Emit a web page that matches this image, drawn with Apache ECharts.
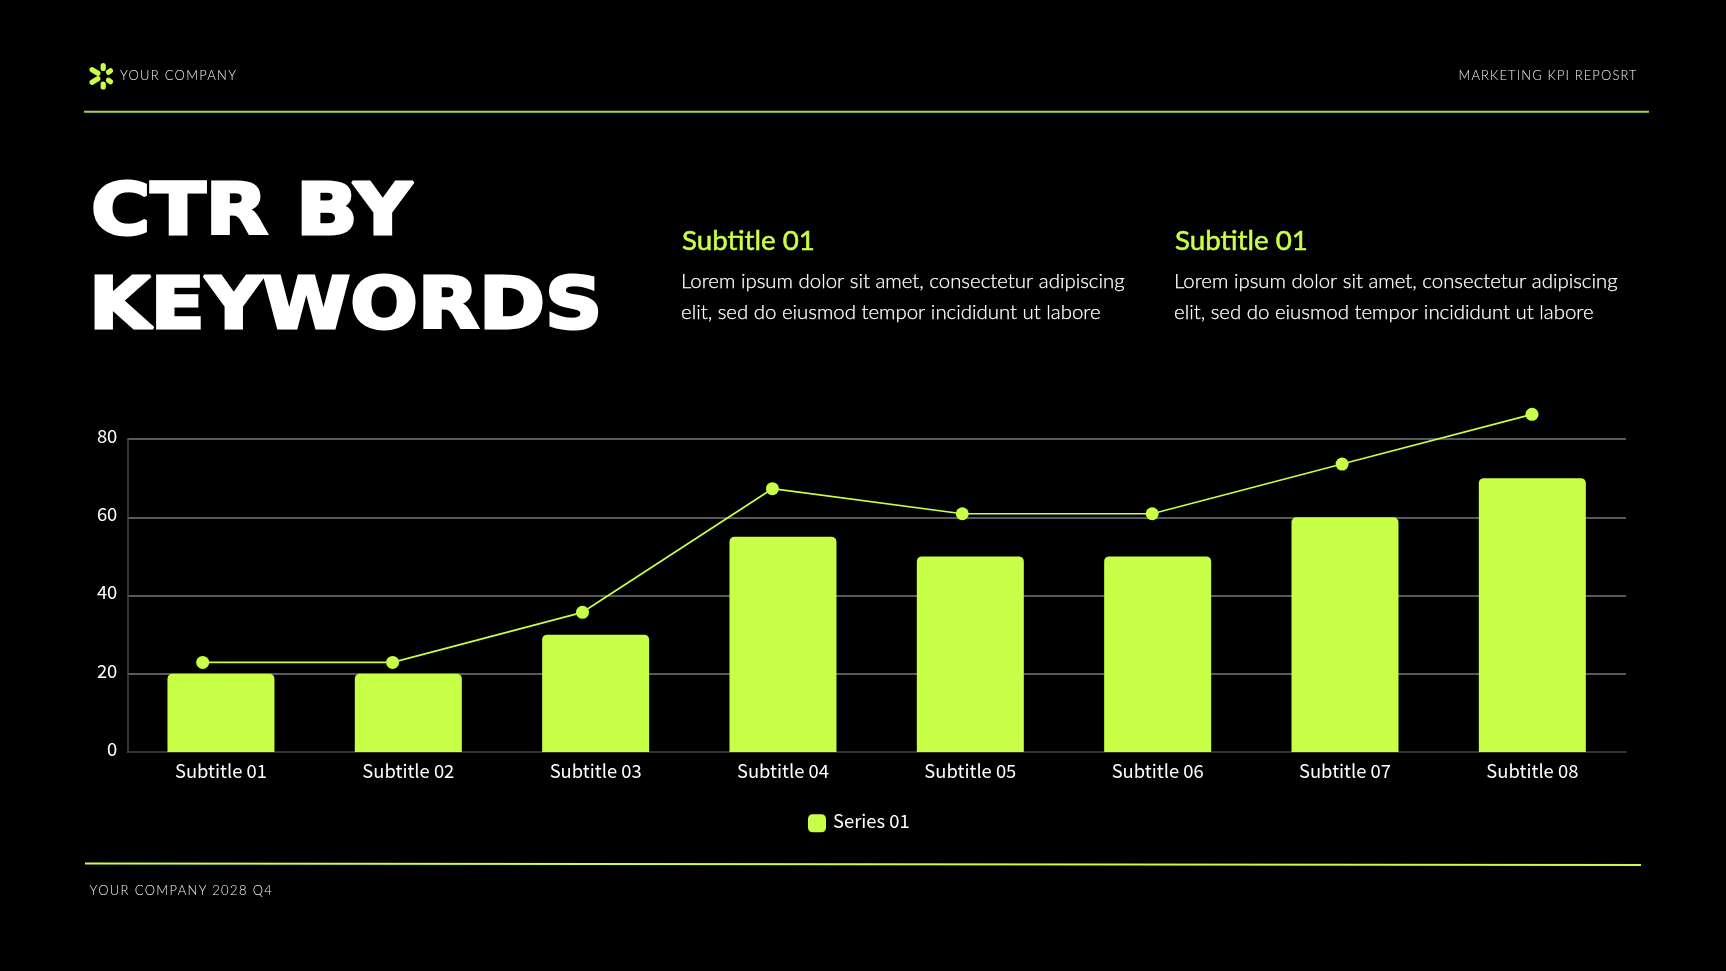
<!DOCTYPE html>
<html><head><meta charset="utf-8">
<style>html,body{margin:0;padding:0;background:#000}#c{width:1726px;height:971px}
.lab{position:absolute;font:300 13px/16px Lato,"Open Sans",sans-serif;color:#f2f2f2;white-space:nowrap;z-index:2}</style>
<script src="https://cdn.jsdelivr.net/npm/echarts@6/dist/echarts.min.js"></script>
</head><body><div id="c"></div>
<div class="lab" style="left:120px;top:67px;letter-spacing:1.25px">YOUR COMPANY</div>
<div class="lab" style="left:1458.5px;top:67px;letter-spacing:1.12px">MARKETING KPI REPOSRT</div>
<div class="lab" style="left:89.5px;top:881.5px;letter-spacing:1.35px">YOUR COMPANY 2028 Q4</div>
<script>
const categories = ['Subtitle 01','Subtitle 02','Subtitle 03','Subtitle 04','Subtitle 05','Subtitle 06','Subtitle 07','Subtitle 08'];
const barValues = [20,20,30,55,50,50,60,70];
const lineValues = [22.9,22.9,35.7,67.3,60.9,60.9,73.6,86.3];
const yTicks = [0,20,40,60,80];
const lime = '#C8FF47';
const cjk = '"Noto Sans CJK SC","Noto Sans",sans-serif';
const body = 'Lato,"Open Sans",sans-serif';
const txt = (x,y,text,size,font,fill,extra) => ({type:'text',x,y,style:Object.assign({text,fontSize:size,fontFamily:font,fill,textVerticalAlign:'middle'},extra||{})});
const chart = echarts.init(document.getElementById('c'),null,{renderer:'canvas'});
const petals = [[103.2,67,0,8],[103.2,85.5,0,8],[95,71.5,58,12],[95,80.5,-58,12],[109.5,71.5,-55,7.5],[109.5,81,55,7.5]];
chart.setOption({
  backgroundColor:'#000',
  animation:false,
  legend:{data:['Series 01'],left:803,top:806.5,itemWidth:18,itemHeight:18,itemGap:6,icon:'roundRect',
    formatter:'{a|{name}}',
    textStyle:{color:'#fff',fontSize:18.4,fontFamily:cjk,
      rich:{a:{color:'#fff',fontSize:18.4,fontFamily:cjk,padding:[0,0,5,2]}}}},
  grid:[{left:127.3,right:100,top:439,height:313},{left:202.7,width:1329.3,top:439,height:313}],
  xAxis:[
    {type:'category',gridIndex:0,data:categories,axisTick:{show:false},axisLine:{lineStyle:{color:'#444',width:1.5}},
      axisLabel:{color:'#fff',fontSize:18.4,fontFamily:cjk,margin:10}},
    {type:'category',gridIndex:1,data:categories,boundaryGap:false,show:false}
  ],
  yAxis:[
    {type:'value',gridIndex:0,min:0,max:80,interval:20,
      axisLine:{show:true,lineStyle:{color:'#444',width:1.5}},axisTick:{show:false},
      splitLine:{showMinLine:false,lineStyle:{color:'#777',width:1.5}},
      axisLabel:{color:'#fff',fontSize:18.4,fontFamily:cjk,margin:10,verticalAlign:'bottom',lineHeight:6}},
    {type:'value',gridIndex:1,min:0,max:80,interval:20,show:false,splitLine:{show:false}}
  ],
  series:[
    {name:'Series 01',type:'bar',xAxisIndex:0,yAxisIndex:0,data:barValues,barWidth:107,
      itemStyle:{color:lime,borderRadius:[5,5,0,0]},z:3},
    {name:'Trend',type:'line',xAxisIndex:1,yAxisIndex:1,data:lineValues,clip:false,symbol:'circle',symbolSize:13,
      itemStyle:{color:lime},lineStyle:{color:lime,width:1.7},z:4}
  ],
  graphic:[
    {type:'line',shape:{x1:84,y1:111.7,x2:1649,y2:111.7},style:{stroke:'#A6D63F',lineWidth:2}},
    {type:'line',shape:{x1:85,y1:863.5,x2:1641,y2:865},style:{stroke:lime,lineWidth:2}},
    ...petals.map(p=>({type:'rect',x:p[0],y:p[1],rotation:p[2]*Math.PI/180,
      shape:{x:-2.6,y:-p[3]/2,width:5.2,height:p[3],r:2.6},style:{fill:lime}})),
    Object.assign(txt(91,216,'CTR BY',71,'"DejaVu Sans"','#fff',{fontWeight:'bold',stroke:'#fff',lineWidth:3}),{scaleX:1.14}),
    Object.assign(txt(89,310,'KEYWORDS',71,'"DejaVu Sans"','#fff',{fontWeight:'bold',stroke:'#fff',lineWidth:3}),{scaleX:1.12}),
    txt(682,241,'Subtitle 01',27.7,body,lime,{stroke:lime,lineWidth:0.5}),
    txt(1175,241,'Subtitle 01',27.7,body,lime,{stroke:lime,lineWidth:0.5}),
    txt(681,281.5,'Lorem ipsum dolor sit amet, consectetur adipiscing',20.4,body,'#fff',{fontWeight:300,stroke:'#fff',lineWidth:0.25}),
    txt(681,312,'elit, sed do eiusmod tempor incididunt ut labore',20.4,body,'#fff',{fontWeight:300,stroke:'#fff',lineWidth:0.25}),
    txt(1174,281.5,'Lorem ipsum dolor sit amet, consectetur adipiscing',20.4,body,'#fff',{fontWeight:300,stroke:'#fff',lineWidth:0.25}),
    txt(1174,312,'elit, sed do eiusmod tempor incididunt ut labore',20.4,body,'#fff',{fontWeight:300,stroke:'#fff',lineWidth:0.25})
  ]
});
</script></body></html>
